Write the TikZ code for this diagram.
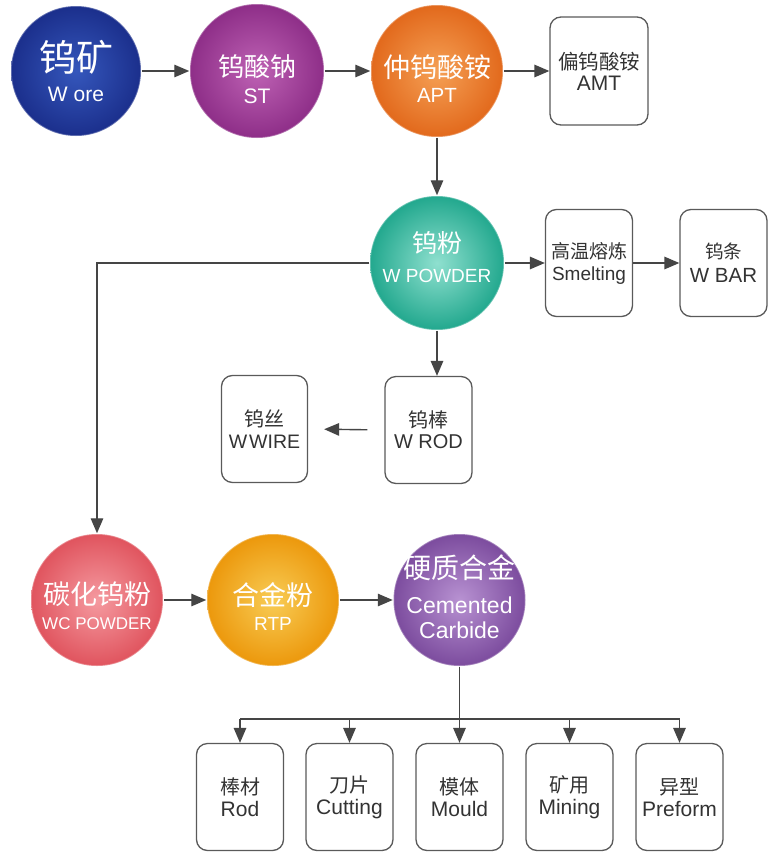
\documentclass[tikz,border=0pt]{standalone}
\usepackage{fontspec}
\setmainfont{Liberation Sans}
\newfontfamily\cjk{Noto Sans CJK SC}
\usetikzlibrary{arrows.meta}
\definecolor{boxline}{HTML}{5A5A5A}
\definecolor{textgray}{HTML}{333333}
\definecolor{arrowgray}{HTML}{454545}
\definecolor{blueIn}{HTML}{3557BC}
\definecolor{blueOut}{HTML}{1B2F8C}
\definecolor{magIn}{HTML}{BE62B4}
\definecolor{magOut}{HTML}{8E2E88}
\definecolor{oraIn}{HTML}{F5A055}
\definecolor{oraOut}{HTML}{E2691C}
\definecolor{tealIn}{HTML}{8FE0CF}
\definecolor{tealOut}{HTML}{22A88E}
\definecolor{pinkIn}{HTML}{F59AA0}
\definecolor{pinkOut}{HTML}{E0545E}
\definecolor{yelIn}{HTML}{F8CC55}
\definecolor{yelOut}{HTML}{EC980C}
\definecolor{purIn}{HTML}{B892D2}
\definecolor{purOut}{HTML}{7C4C9E}
\newcommand\zhtext[2]{{\fontsize{#1}{#1}\selectfont\cjk #2}}
\begin{document}
\begin{tikzpicture}[x=1pt,y=-1pt,
  ball/.style={circle,inner sep=0pt,minimum size=132pt,
    draw=white,draw opacity=0.3,line width=1.5pt},
  balltext/.style={inner sep=0pt,text=white,align=center},
  procbox/.style={draw=boxline,line width=1.3pt,rounded corners=11pt,fill=white,
    minimum width=87pt,minimum height=107pt,inner sep=0pt,align=center,text=textgray},
  arr/.style={draw=arrowgray,line width=1.4pt,-{Triangle[length=15pt,width=12.5pt]}},
  link/.style={draw=arrowgray,line width=1.4pt}]
\useasboundingbox[fill=white] (0,0) rectangle (772,852);

% top row
\node[ball,minimum size=130pt,inner color=blueIn,outer color=blueOut] (ore) at (76,71) {};
\node[balltext,font=\fontsize{21}{30}\selectfont] (oretext) at (ore.center) {\zhtext{37}{钨矿}\\W ore};
\node[ball,minimum size=134pt,inner color=magIn,outer color=magOut] (st) at (257,71) {};
\node[balltext,font=\fontsize{21}{27}\selectfont] (sttext) at ([yshift=-8pt]st.center) {\zhtext{26}{钨酸钠}\\ST};
\node[ball,inner color=oraIn,outer color=oraOut] (apt) at (437,71) {};
\node[balltext,font=\fontsize{20.5}{25}\selectfont] (apttext) at ([yshift=-8pt]apt.center) {\zhtext{27}{仲钨酸铵}\\APT};
\node[procbox,minimum width=98pt,minimum height=108pt,
  font=\fontsize{21}{21}\selectfont] (amt) at (599,71) {\zhtext{20.5}{偏钨酸铵}\\AMT};

% second row
\node[ball,minimum size=134pt,inner color=tealIn,outer color=tealOut] (wpow) at (437,263) {};
\node[balltext,font=\fontsize{19}{30}\selectfont] (wpowtext) at ([yshift=6pt]wpow.center) {\zhtext{25}{钨粉}\\W POWDER};
\node[procbox,font=\fontsize{19}{22}\selectfont] (smelt) at (589,263) {\zhtext{19}{高温熔炼}\\Smelting};
\node[procbox,font=\fontsize{20.5}{24}\selectfont] (wbar) at (723.5,263) {\zhtext{18.5}{钨条}\\W BAR};

% third row
\node[procbox,font=\fontsize{20}{21}\selectfont] (wrod) at (428.5,430) {\zhtext{20}{钨棒}\\W ROD};
\node[procbox,minimum width=86pt,font=\fontsize{19.5}{22}\selectfont] (wwire) at (264.5,429) {\zhtext{20}{钨丝}\\{\spaceskip=2pt W WIRE}};

% fourth row
\node[ball,inner color=pinkIn,outer color=pinkOut] (wc) at (97,600) {};
\node[balltext,font=\fontsize{17}{25}\selectfont] (wctext) at ([yshift=-6pt]wc.center) {\zhtext{27}{碳化钨粉}\\WC POWDER};
\node[ball,inner color=yelIn,outer color=yelOut] (rtp) at (273,600) {};
\node[balltext,font=\fontsize{19}{25}\selectfont] (rtptext) at ([yshift=-7pt]rtp.center) {\zhtext{27}{合金粉}\\RTP};
\node[ball,inner color=purIn,outer color=purOut] (cc) at (459.5,600) {};
\node[balltext,font=\fontsize{23}{25}\selectfont] (cctext) at ([yshift=3pt]cc.center) {\zhtext{28}{硬质合金}\\[10pt]Cemented\\Carbide};

% bottom row
\node[procbox,font=\fontsize{21}{22}\selectfont] (rod) at (240,797) {\zhtext{20}{棒材}\\Rod};
\node[procbox,font=\fontsize{21}{22}\selectfont] (cutting) at (349.5,797) {\zhtext{20}{刀片}\\Cutting};
\node[procbox,font=\fontsize{21}{22}\selectfont] (mould) at (459.5,797) {\zhtext{20}{模体}\\Mould};
\node[procbox,font=\fontsize{21}{22}\selectfont] (mining) at (569.5,797) {\zhtext{20}{矿用}\\Mining};
\node[procbox,font=\fontsize{21}{22}\selectfont] (preform) at (679.5,797) {\zhtext{20}{异型}\\Preform};

% connectors
\draw[arr] (ore) -- (st);
\draw[arr] (st) -- (apt);
\draw[arr] (apt) -- (amt);
\draw[arr] (apt) -- (wpow);
\draw[arr] (wpow) -- (smelt);
\draw[arr] (smelt) -- (wbar);
\draw[arr] (wpow.west) -| (wc.north);
\draw[arr] (wpow.south) -- (wpow.south |- wrod.north);
\draw[arr,shorten <=17pt,shorten >=16pt] (wrod.west) -- (wwire.east);
\draw[arr] (wc) -- (rtp);
\draw[arr] (rtp) -- (cc);
\coordinate (bus) at (459.5,719);
\draw[link] (cc.south) -- (bus);
\draw[link] (bus -| rod.north) -- (bus -| preform.north);
\foreach \n in {rod,cutting,mould,mining,preform}
  \draw[arr] (bus -| \n.north) -- (\n.north);
\end{tikzpicture}
\end{document}
